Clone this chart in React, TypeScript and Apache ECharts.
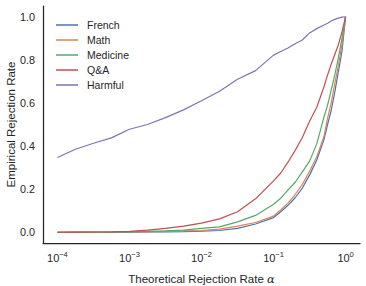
import React, { useEffect, useRef } from "react";
import * as echarts from "echarts";

// log10 of theoretical rejection rate alpha
const logAlpha = [-4, -3.75, -3.5, -3.25, -3, -2.75, -2.5, -2.25, -2, -1.75, -1.5, -1.25, -1, -0.9, -0.8, -0.7, -0.6, -0.5, -0.4, -0.3, -0.25, -0.2, -0.15, -0.1, -0.05, 0];

const french = [0, 0, 0, 0, 0, 0.001, 0.002, 0.003, 0.005, 0.008, 0.018, 0.038, 0.068, 0.095, 0.125, 0.16, 0.205, 0.265, 0.335, 0.43, 0.5, 0.565, 0.65, 0.745, 0.84, 1];
const math = [0, 0, 0, 0.001, 0.001, 0.002, 0.004, 0.006, 0.008, 0.014, 0.028, 0.045, 0.075, 0.103, 0.135, 0.175, 0.222, 0.283, 0.35, 0.445, 0.53, 0.6, 0.69, 0.775, 0.87, 1];
const medicine = [0, 0.0005, 0.001, 0.001, 0.002, 0.004, 0.006, 0.01, 0.018, 0.025, 0.048, 0.078, 0.13, 0.158, 0.195, 0.232, 0.28, 0.33, 0.41, 0.535, 0.59, 0.66, 0.73, 0.81, 0.9, 1];
const qa = [0, 0.0005, 0.001, 0.002, 0.004, 0.01, 0.018, 0.028, 0.042, 0.062, 0.095, 0.155, 0.238, 0.275, 0.325, 0.38, 0.44, 0.515, 0.58, 0.675, 0.73, 0.78, 0.825, 0.87, 0.93, 1];
const harmful = [0.347, 0.385, 0.413, 0.438, 0.478, 0.5, 0.532, 0.568, 0.61, 0.654, 0.71, 0.75, 0.822, 0.839, 0.855, 0.875, 0.892, 0.925, 0.945, 0.962, 0.97, 0.98, 0.988, 0.994, 0.998, 1];

const seriesNames = ["French", "Math", "Medicine", "Q&A", "Harmful"];
const seriesValues = [french, math, medicine, qa, harmful];
const colors = ["#4c72b0", "#dd8452", "#55a868", "#c44e52", "#8172b3"];

const xTickExps = [-4, -3, -2, -1, 0];
const yTicks = [0, 0.2, 0.4, 0.6, 0.8, 1.0];

const FONT = "Liberation Sans, Arial, sans-serif";
const TEXT = "#262626";

export default function App() {
  const ref = useRef<HTMLDivElement>(null);
  useEffect(() => {
    if (!ref.current) return;
    const chart = echarts.init(ref.current, undefined, { renderer: "svg" });
    chart.setOption({
      animation: false,
      backgroundColor: "#ffffff",
      textStyle: { fontFamily: FONT },
      grid: { left: 43, right: 6, top: 6, bottom: 43, containLabel: false, outerBoundsMode: "none" },
      legend: {
        orient: "vertical",
        left: 51,
        top: 14,
        icon: "rect",
        itemWidth: 22,
        itemHeight: 1.5,
        itemGap: 3,
        data: seriesNames,
        textStyle: { fontFamily: FONT, fontSize: 10.5, lineHeight: 12, color: TEXT, padding: [0, 0, 0, 4] },
      },
      xAxis: {
        type: "value",
        min: -4.2,
        max: 0.2,
        name: "Theoretical Rejection Rate {i|α}",
        nameLocation: "middle",
        nameGap: 30,
        nameMoveOverlap: false,
        nameTextStyle: {
          fontFamily: FONT,
          fontSize: 11.5,
          color: TEXT,
          rich: { i: { fontFamily: "DejaVu Serif, serif", fontStyle: "italic", fontSize: 11.5, color: TEXT } },
        },
        axisLine: { show: true, onZero: false, lineStyle: { color: TEXT, width: 1.25 } },
        axisTick: { show: false },
        splitLine: { show: false },
        axisLabel: {
          customValues: xTickExps,
          margin: 7,
          color: TEXT,
          formatter: (v: number) => `{b|10}{s|${v === 0 ? "0" : "\u2212" + Math.abs(v)}}`,
          rich: {
            b: { fontFamily: FONT, fontSize: 11, color: TEXT },
            s: { fontFamily: FONT, fontSize: 7.5, color: TEXT, padding: [0, 0, 8, 0] },
          },
        },
      },
      yAxis: {
        type: "value",
        min: -0.05,
        max: 1.05,
        name: "Empirical Rejection Rate",
        nameLocation: "middle",
        nameGap: 26,
        nameMoveOverlap: false,
        nameTextStyle: { fontFamily: FONT, fontSize: 11.5, color: TEXT },
        axisLine: { show: true, onZero: false, lineStyle: { color: TEXT, width: 1.25 } },
        axisTick: { show: false },
        splitLine: { show: false },
        axisLabel: {
          customValues: yTicks,
          margin: 8,
          fontFamily: FONT,
          fontSize: 10.8,
          color: TEXT,
          formatter: (v: number) => v.toFixed(1),
        },
      },
      series: seriesNames.map((name, i) => ({
        name,
        type: "line",
        symbol: "none",
        color: colors[i],
        lineStyle: { width: 1.2, color: colors[i] },
        data: logAlpha.map((x, j) => [x, seriesValues[i][j]]),
        z: i === 3 ? 3 : 2,
      })),
    });
    return () => chart.dispose();
  }, []);
  return <div ref={ref} style={{ position: "fixed", left: 0, top: 0, width: 366, height: 286 }} />;
}
